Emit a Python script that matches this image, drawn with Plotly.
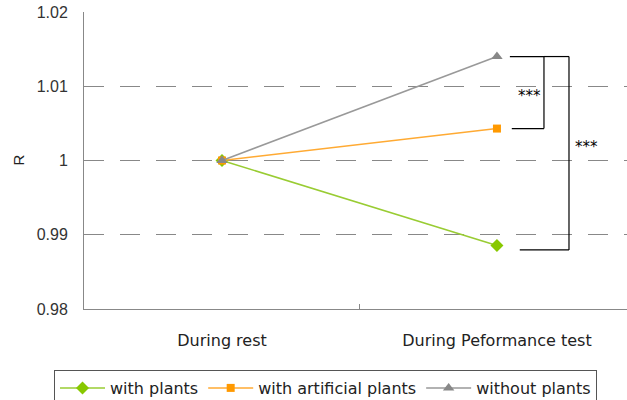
import plotly.graph_objects as go

categories = ["During rest", "During Peformance test"]
with_plants = [1.0, 0.98855]
with_artificial = [1.0, 1.0043]
without_plants = [1.0, 1.0140]
y_ticks = [0.98, 0.99, 1.0, 1.01, 1.02]
y_tick_labels = ["0.98", "0.99", "1", "1.01", "1.02"]

fig = go.Figure()
fig.add_trace(go.Scatter(x=categories, y=with_plants, name="with plants", mode="lines+markers",
                         line=dict(color="#99CC33", width=1.5),
                         marker=dict(symbol="diamond", size=10, color="#88C800")))
fig.add_trace(go.Scatter(x=categories, y=with_artificial, name="with artificial plants", mode="lines+markers",
                         line=dict(color="#FFAA33", width=1.5),
                         marker=dict(symbol="square", size=8, color="#FF9900")))
fig.add_trace(go.Scatter(x=categories, y=without_plants, name="without plants", mode="lines+markers",
                         line=dict(color="#999999", width=1.5),
                         marker=dict(symbol="triangle-up", size=10, color="#888888")))

# significance brackets
b = dict(color="black", width=1.2)
top = without_plants[1]; mid = with_artificial[1]; low = with_plants[1] - 0.0006
fig.add_shape(type="line", x0=1.047, x1=1.171, y0=top, y1=top, line=b)
fig.add_shape(type="line", x0=1.171, x1=1.171, y0=top, y1=mid, line=b)
fig.add_shape(type="line", x0=1.054, x1=1.171, y0=mid, y1=mid, line=b)
fig.add_shape(type="line", x0=1.171, x1=1.262, y0=top, y1=top, line=b)
fig.add_shape(type="line", x0=1.262, x1=1.262, y0=top, y1=low, line=b)
fig.add_shape(type="line", x0=1.083, x1=1.262, y0=low, y1=low, line=b)
fig.add_annotation(x=1.120, y=(top + mid) / 2 - 0.0005, text="***", showarrow=False,
                   font=dict(size=15, color="black", family="DejaVu Sans"))
fig.add_annotation(x=1.327, y=(top + low) / 2 + 0.0009, text="***", showarrow=False,
                   font=dict(size=15, color="black", family="DejaVu Sans"))

# y-axis title
fig.add_annotation(xref="paper", yref="paper", x=(18 - 84) / 543, y=0.5, text="R",
                   textangle=-90, showarrow=False, xanchor="center", yanchor="middle",
                   font=dict(family="Liberation Sans", size=15, color="#222222"))

fig.update_layout(
    width=627, height=400,
    margin=dict(l=84, r=0, t=12, b=91),
    plot_bgcolor="white", paper_bgcolor="white",
    font=dict(family="DejaVu Sans", size=16, color="#222222"),
    showlegend=True,
    legend=dict(orientation="h", xref="container", yref="container",
                x=54 / 627, y=(400 - 370) / 400,
                xanchor="left", yanchor="top",
                bordercolor="#555555", borderwidth=1,
                font=dict(family="DejaVu Sans", size=16, color="#222222"),
                itemwidth=45, tracegroupgap=0),
    xaxis=dict(range=[-0.502, 1.473], showgrid=False, showline=True, linecolor="#888888",
               ticks="inside", ticklen=5, tickcolor="#888888", tickson="boundaries",
               tickfont=dict(family="DejaVu Sans", size=16, color="#222222"),
               ticklabelstandoff=17, zeroline=False, automargin=False),
    yaxis=dict(range=[0.98, 1.02], tickvals=y_ticks, ticktext=y_tick_labels,
               showgrid=True, gridcolor="#888888", griddash="20px,16px", gridwidth=1,
               showline=True, linecolor="#888888", zeroline=False,
               ticklabelstandoff=12, automargin=False,
               tickfont=dict(family="Liberation Sans", size=16, color="#333333")),
)
fig.write_html("out.html", config={"displayModeBar": False},
               post_script="document.body.style.margin='0';document.body.style.overflow='hidden';")
